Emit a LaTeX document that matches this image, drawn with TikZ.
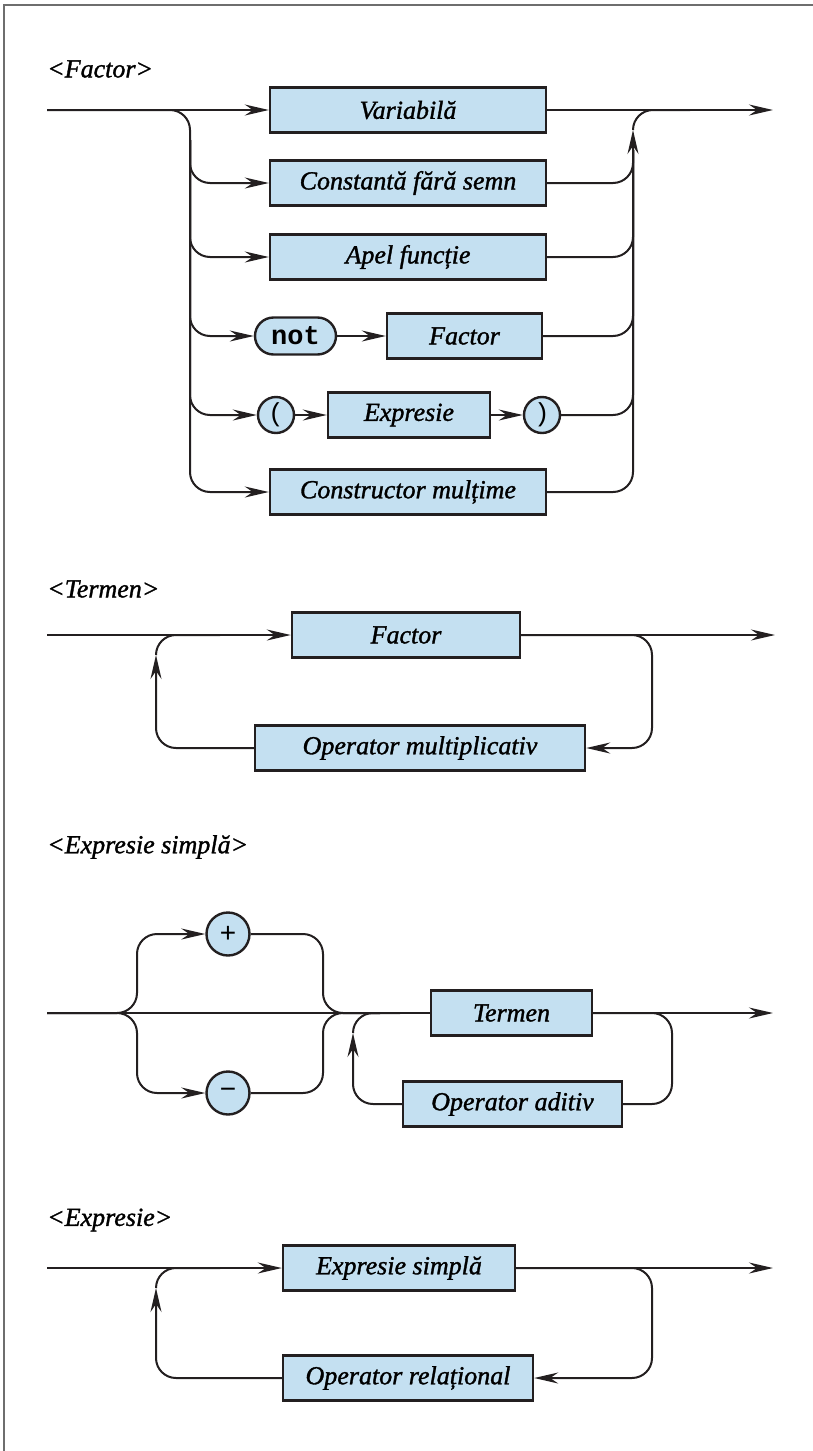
\documentclass[tikz,border=0pt]{standalone}
\usepackage{fontspec}
\setmainfont{Liberation Serif}[ItalicFeatures={FakeBold=1.3}]
\newfontfamily\kwfont{Liberation Mono}
\newfontfamily\signfont{Liberation Sans}
\usetikzlibrary{arrows.meta,shapes.misc}
\definecolor{boxblue}{RGB}{196,224,241}
\definecolor{framegray}{RGB}{110,110,110}
\definecolor{ink}{RGB}{35,31,32}
\newcommand\lblfont{\fontsize{26}{31}\selectfont\itshape}
\begin{document}
\begin{tikzpicture}[x=1pt,y=-1pt,
  conn/.style={draw=ink,line width=2pt},
  arr/.style={-{Stealth[length=24pt,width=11pt,inset=8pt]}},
  box/.style={draw=ink,fill=boxblue,line width=2.4pt,inner sep=0pt,
    minimum height=45pt,minimum width=#1,font=\lblfont},
  kw/.style={rounded rectangle,draw=ink,fill=boxblue,line width=2.4pt,inner sep=0pt,
    minimum height=37pt,minimum width=81pt,font=\kwfont\bfseries\fontsize{27}{32}\selectfont},
  par/.style={circle,draw=ink,fill=boxblue,line width=2.4pt,inner sep=0pt,
    minimum size=36pt,font=\kwfont\fontsize{26}{30}\selectfont},
  sgn/.style={circle,draw=ink,fill=boxblue,line width=2.4pt,inner sep=0pt,
    minimum size=43pt,font=\signfont\fontsize{28}{32}\selectfont},
  title/.style={anchor=west,inner sep=0pt,font=\lblfont},
  curved/.style={conn,rounded corners=20pt}]
\useasboundingbox (0,0) rectangle (813,1451);
% open frame: left and top edges
\draw[framegray,line width=1.5pt] (4,1451) -- (4,5) -- (813,5);

% ---------------- <Factor> ----------------
\node[title] (tFactor) at (47,69) {<Factor>};
\node[box=276pt] (var)  at (408,110) {Variabilă};
\node[box=276pt] (cst)  at (408,183) {Constantă fără semn};
\node[box=276pt] (apel) at (408,257) {Apel funcție};
\node[kw]        (not)  at (295.5,336) {not};
\node[box=155pt] (fac)  at (464.5,336) {Factor};
\node[par]       (lp)   at (276,415) {(};
\node[box=162pt] (expr) at (409,415) {Expresie};
\node[par]       (rp)   at (542,415) {)};
\node[box=276pt] (cm)   at (408,492) {Constructor mulțime};
\coordinate (fIn)    at (47,110);
\coordinate (fSplit) at (190,110);
\coordinate (fTrunk) at (190,140);
\coordinate (fJoin)  at (633,130);
\coordinate (fMerge) at (633,150);
\coordinate (fBend)  at (690,110);
\coordinate (fOut)   at (773,110);
\draw[conn,arr] (fIn) -- (var.west);
\draw[conn,arr] (var.east) -- (fOut);
\draw[curved,arr] (fIn) -- (fSplit) |- (cm.west);
\foreach \n in {cst,apel,not,lp} \draw[curved,arr] (fTrunk) |- (\n.west);
\draw[conn,arr] (not.east) -- (fac.west);
\draw[conn,arr] (lp.east) -- (expr.west);
\draw[conn,arr] (expr.east) -- (rp.west);
\draw[curved,arr] (cm.east) -| (fJoin);
\foreach \n in {cst,apel,fac,rp} \draw[curved] (\n.east) -| (fMerge);
\draw[curved] (fJoin) |- (fBend);

% ---------------- <Termen> ----------------
\node[title] (tTermen) at (47,589) {<Termen>};
\node[box=228pt] (tfac) at (406,635) {Factor};
\node[box=330pt] (tmul) at (420,748) {Operator multiplicativ};
\coordinate (tIn)   at (47,635);
\coordinate (tOut)  at (775,635);
\coordinate (tR)    at (652,635);
\coordinate (tL)    at (156,655);
\coordinate (tBend) at (220,635);
\draw[conn,arr] (tIn) -- (tfac.west);
\draw[conn,arr] (tfac.east) -- (tOut);
\draw[curved,arr] (tfac.east) -- (tR) |- (tmul.east);
\draw[curved,arr] (tmul.west) -| (tL);
\draw[curved] (tL) |- (tBend);

% ---------------- <Expresie simplă> ----------------
\node[title] (tSimple) at (47,847) {<Expresie simplă>};
\node[sgn] (plus)  at (228,934)  {+};
\node[sgn] (minus) at (228,1093) {−};
\node[box=161pt] (ter) at (511.5,1013) {Termen};
\node[box=219pt] (add) at (512.5,1104) {Operator aditiv};
\coordinate (sIn)   at (47,1013);
\coordinate (sL)    at (137,1013);
\coordinate (sR)    at (323,1013);
\coordinate (sJoin) at (380,1013);
\coordinate (sLoop) at (353,1033);
\coordinate (sBend) at (400,1013);
\coordinate (sLoopR) at (672,1013);
\coordinate (sOut)  at (773,1013);
\draw[conn] (sIn) -- (ter.west);
\draw[curved,arr] (sIn) -- (sL) |- (plus.west);
\draw[curved,arr] (sIn) -- (sL) |- (minus.west);
\draw[curved] (plus.east) -| (sR) -- (sJoin);
\draw[curved] (minus.east) -| (sR) -- (sJoin);
\draw[curved,arr] (add.west) -| (sLoop);
\draw[curved] (sLoop) |- (sBend);
\draw[curved] (ter.east) -- (sLoopR) |- (add.east);
\draw[conn,arr] (ter.east) -- (sOut);

% ---------------- <Expresie> ----------------
\node[title] (tExpr) at (47,1220) {<Expresie>};
\node[box=232pt] (es)  at (399,1268) {Expresie simplă};
\node[box=250pt] (rel) at (408,1378) {Operator relațional};
\coordinate (xIn)   at (47,1268);
\coordinate (xOut)  at (773,1268);
\coordinate (xR)    at (652,1268);
\coordinate (xL)    at (156,1288);
\coordinate (xBend) at (220,1268);
\draw[conn,arr] (xIn) -- (es.west);
\draw[conn,arr] (es.east) -- (xOut);
\draw[curved,arr] (es.east) -- (xR) |- (rel.east);
\draw[curved,arr] (rel.west) -| (xL);
\draw[curved] (xL) |- (xBend);
\end{tikzpicture}
\end{document}
